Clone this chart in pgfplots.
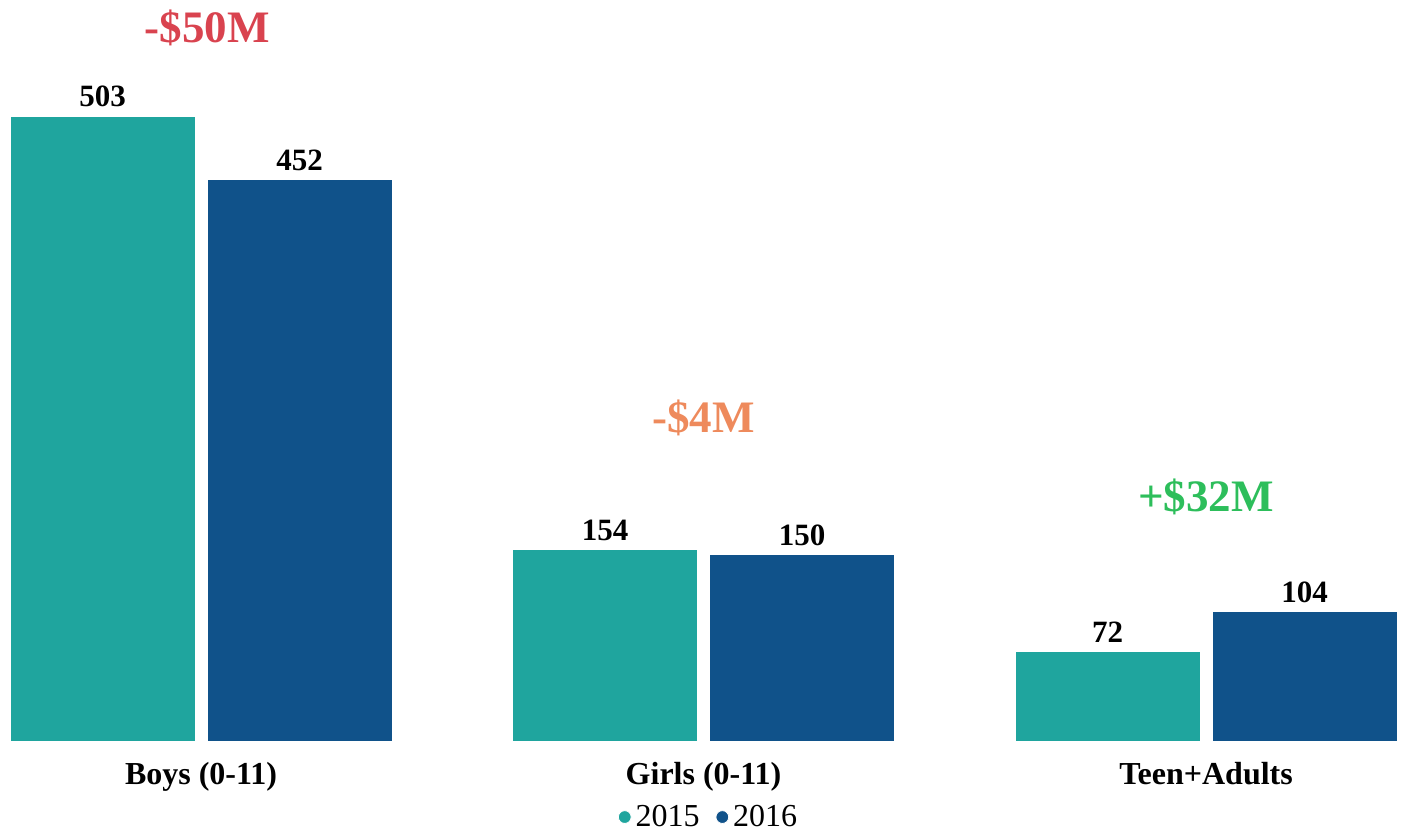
\documentclass[border=0pt]{standalone}
\usepackage{pgfplots}
\pgfplotsset{compat=1.18}
\usepackage{fontspec}
\setmainfont{Liberation Serif}

\definecolor{teal15}{HTML}{1FA59E}
\definecolor{navy16}{HTML}{10528A}
\definecolor{downred}{HTML}{D9434F}
\definecolor{downorange}{HTML}{EE8A5C}
\definecolor{upgreen}{HTML}{2DBE5B}

\begin{document}
\begin{tikzpicture}
\begin{axis}[
  scale only axis,
  width=701.5pt, height=370.5pt,
  xmin=-0.4, xmax=2.392,
  ymin=0, ymax=596.4,
  ybar=6pt, bar width=92.5pt,
  axis line style={draw=none},
  tick style={draw=none},
  ytick=\empty,
  xtick={0,1,2},
  xticklabels={Boys (0-11), Girls (0-11), Teen+Adults},
  xticklabel style={font=\fontsize{16}{18}\selectfont\bfseries, yshift=-3pt},
  /pgf/number format/assume math mode=true,
  nodes near coords,
  every node near coord/.append style={font=\fontsize{15.5}{17}\selectfont\bfseries, text=black, yshift=1pt},
  clip=false,
  legend columns=2,
  legend style={draw=none, fill=none, at={(axis cs:1.012,-61.2)}, anchor=center,
    font=\fontsize{16}{18}\selectfont,
    /tikz/every even column/.append style={column sep=6pt}},
  legend image code/.code={\fill (0.15em,0) circle (3.2pt);},
]
\addplot[fill=teal15, draw=white, line width=0.4pt] coordinates {(0,503) (1,154) (2,72)};
\addlegendentry{2015}
\addplot[fill=navy16, draw=white, line width=0.4pt] coordinates {(0,452) (1,150) (2,104)};
\addlegendentry{2016}

\node[text=downred, font=\fontsize{22.5}{26}\selectfont\bfseries] at (axis cs:0.012,573.8) {-\$50M};
\node[text=downorange, font=\fontsize{22.5}{26}\selectfont\bfseries] at (axis cs:1.0,260) {-\$4M};
\node[text=upgreen, font=\fontsize{22.5}{26}\selectfont\bfseries] at (axis cs:2.0,196.4) {+\$32M};
\end{axis}
\pgfresetboundingbox
\path (current axis.south west) ++(0,-45pt) rectangle (current axis.north east);
\end{tikzpicture}
\end{document}
